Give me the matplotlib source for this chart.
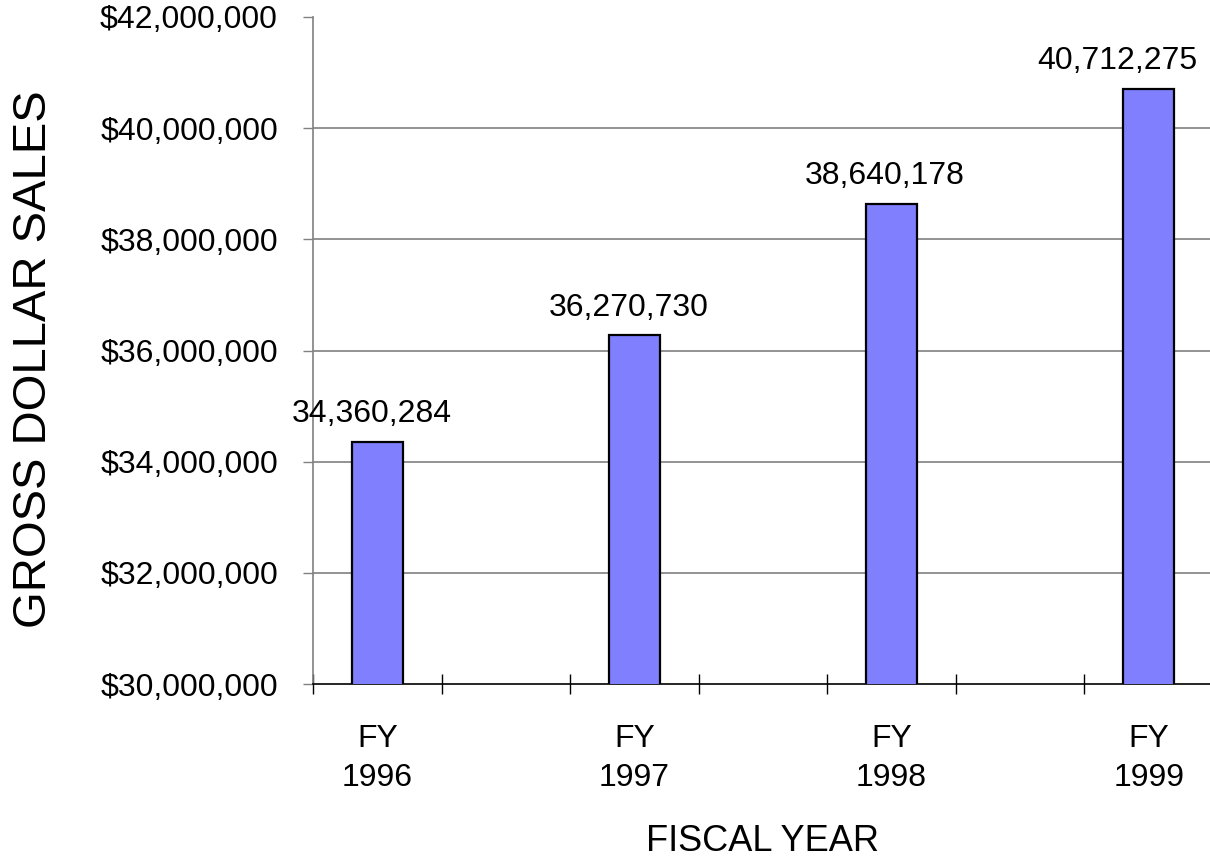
import numpy as np
import matplotlib
matplotlib.use("Agg")
import matplotlib.pyplot as plt
from matplotlib.ticker import FuncFormatter

plt.rcParams['font.family'] = ['Liberation Sans', 'DejaVu Sans']

# Datos
anios = ['FY\n1996', 'FY\n1997', 'FY\n1998', 'FY\n1999']
ventas = [34360284, 36270730, 38640178, 40712275]
y_ticks = [30000000, 32000000, 34000000, 36000000, 38000000, 40000000, 42000000]

# Cada barra ocupa una columna, con una columna vacia entre ellas
x = np.arange(len(anios)) * 2
n_slots = 2 * len(anios) - 1

fig = plt.figure(figsize=(12.1, 8.61), dpi=100)
ax = fig.add_axes([313 / 1210, 1 - 684 / 861, 900 / 1210, 667 / 861])

ax.bar(x, ventas, width=0.4, color='#8080FF', edgecolor='black', linewidth=1.6, zorder=3)

# Etiquetas de valor sobre las barras (desplazamiento horizontal en px)
desplaz = [-5, -6, -7, -31]
for xi, v, dx in zip(x, ventas, desplaz):
    ax.annotate(f'{v:,}', (xi, v), xytext=(dx * 0.72, 9), textcoords='offset points',
                ha='center', va='bottom', fontsize=23)

# Eje Y
ax.set_ylim(y_ticks[0], y_ticks[-1])
ax.set_yticks(y_ticks)
ax.yaxis.set_major_formatter(FuncFormatter(lambda v, p: f'${v:,.0f}'))
ax.tick_params(axis='y', direction='out', length=7.2, width=1, color='#808080',
               labelsize=23, pad=18)
ax.yaxis.grid(True, color='#808080', linewidth=1.2, zorder=0)
ax.get_ygridlines()[-1].set_visible(False)
ax.get_ygridlines()[0].set_visible(False)

# Eje X
ax.set_xlim(-0.5, n_slots - 0.5)
ax.set_xticks(np.arange(-0.5, n_slots - 0.5, 1.0))
ax.set_xticklabels([])
ax.tick_params(axis='x', which='major', direction='inout', length=14.4, width=1, color='black')
ax.set_xticks(x, minor=True)
ax.set_xticklabels(anios, minor=True, fontsize=23, linespacing=1.4)
ax.tick_params(axis='x', which='minor', length=0, pad=29)

for lado in ['top', 'right']:
    ax.spines[lado].set_visible(False)
ax.spines['left'].set_color('#808080')
ax.spines['left'].set_linewidth(1.2)
ax.spines['bottom'].set_color('black')
ax.spines['bottom'].set_linewidth(1.2)

ax.set_xlabel('FISCAL YEAR', fontsize=26)
ax.xaxis.set_label_coords(0.5, -0.2105)
ax.set_ylabel('GROSS DOLLAR SALES', fontsize=34)
ax.yaxis.set_label_coords(-0.285, 0.4865)

plt.savefig('out.png', dpi=100)
